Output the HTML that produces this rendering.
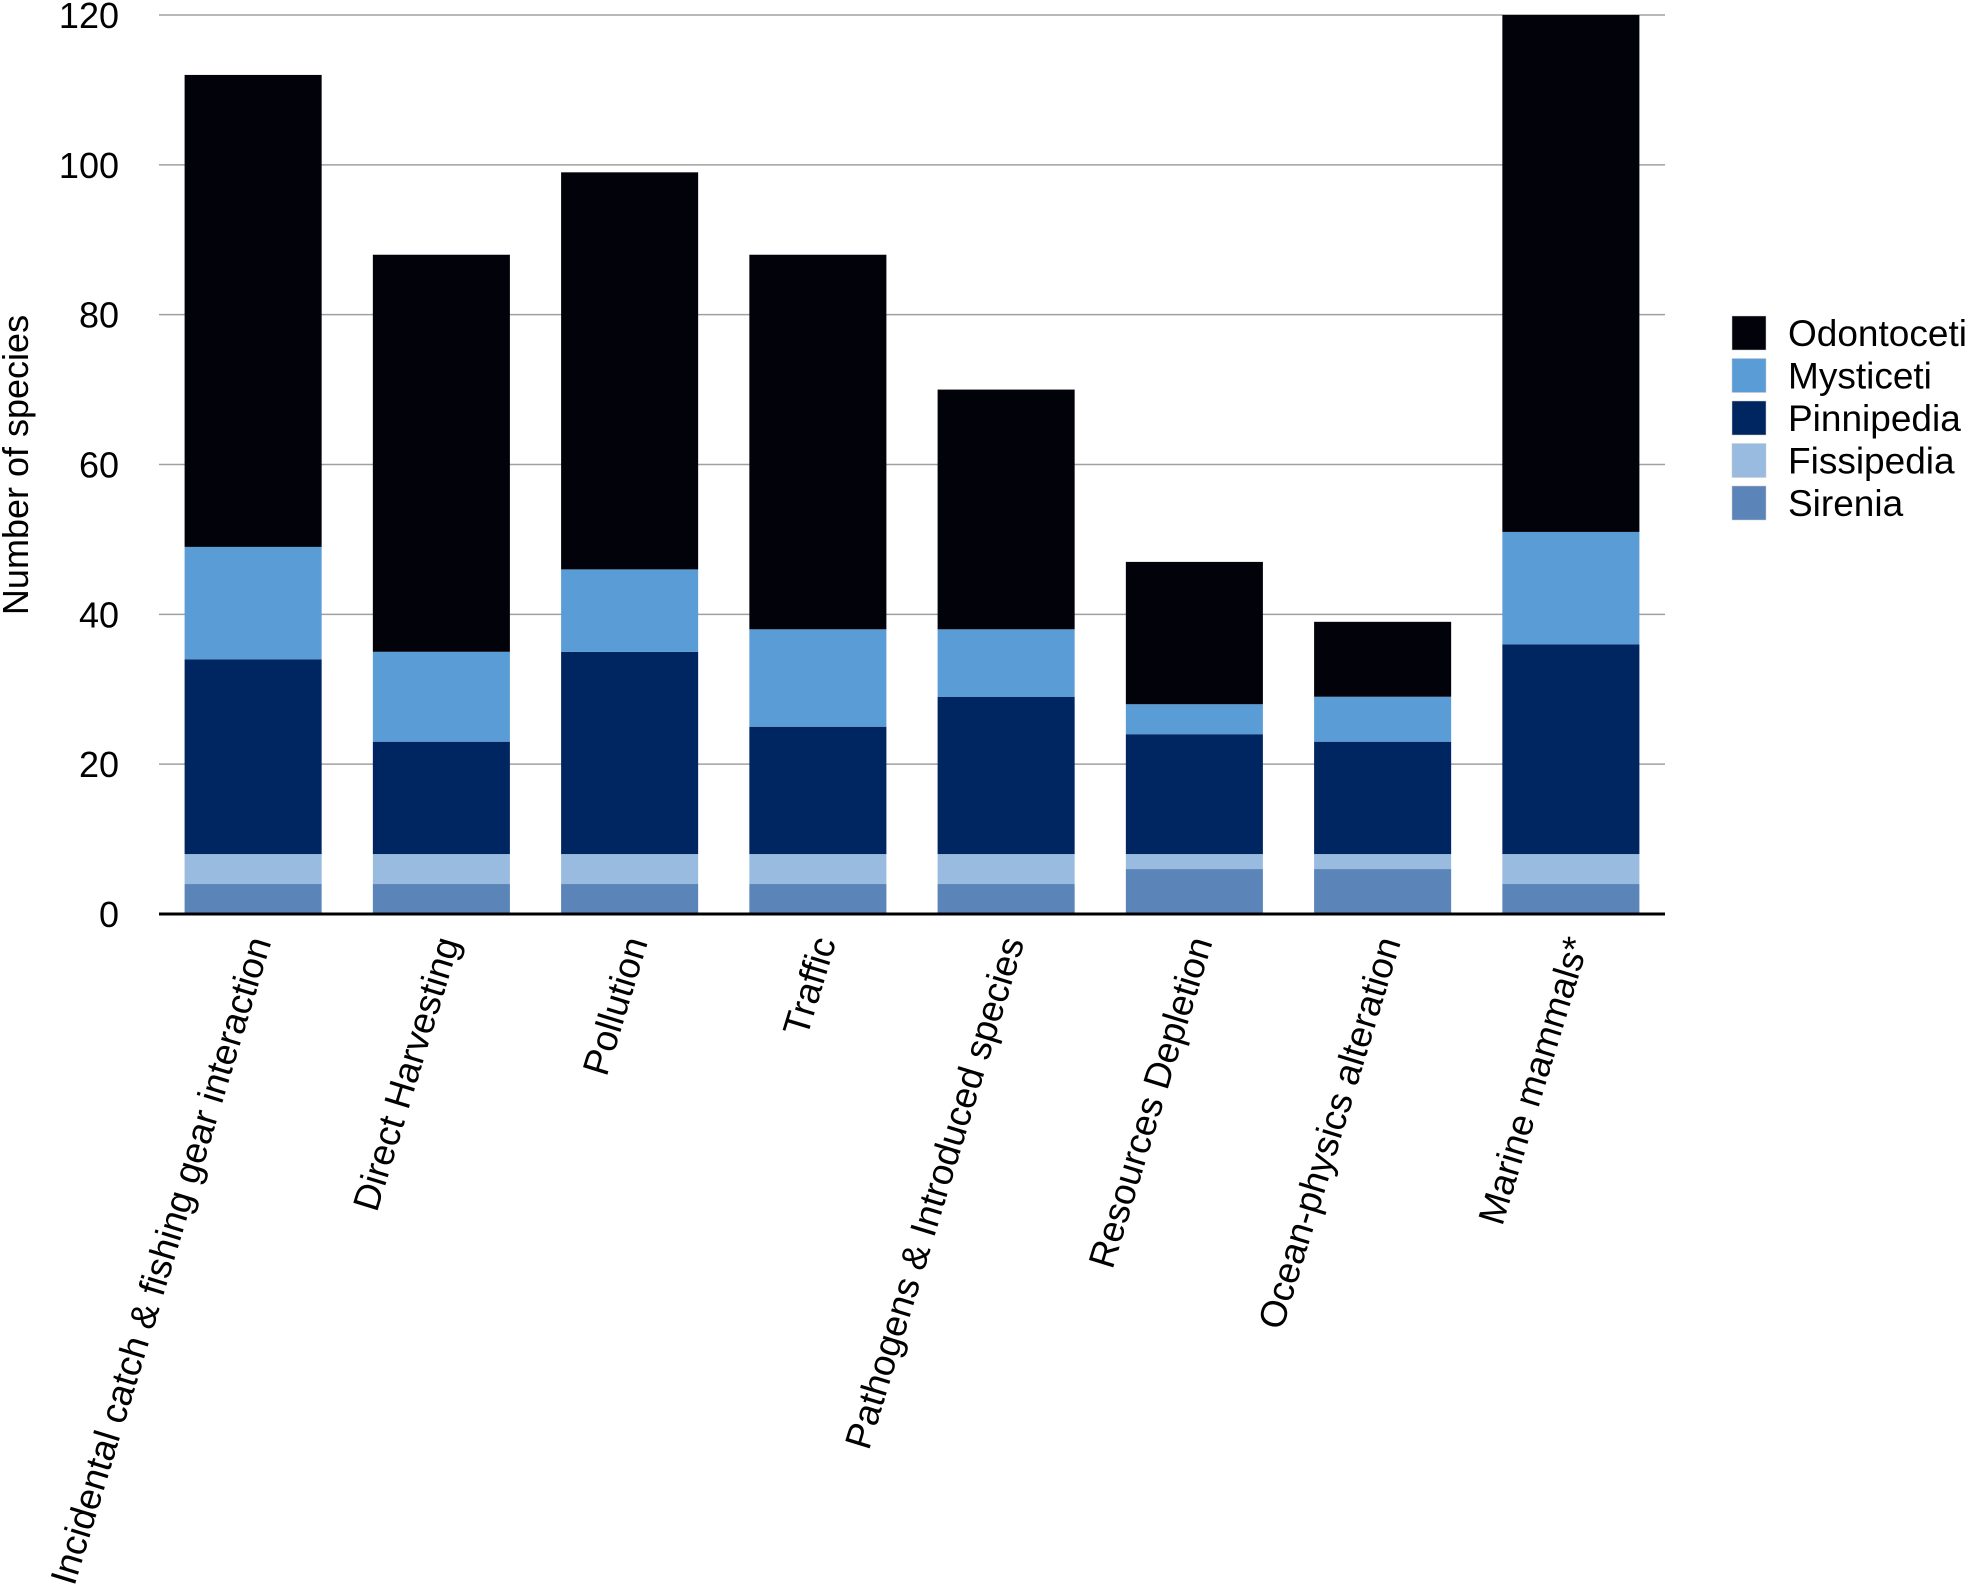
<!DOCTYPE html>
<html><head><meta charset="utf-8"><style>
html,body{margin:0;padding:0;background:#fff;}
svg{display:block;font-family:"Liberation Sans",Arial,sans-serif;}
</style></head><body>
<svg id="chart" width="1969" height="1585" viewBox="0 0 1969 1585" xmlns="http://www.w3.org/2000/svg">
<g id="grid"></g>
<g id="bars"></g>
<g id="yticks"></g>
<g id="xlabels"></g>
<text transform="translate(28,465) rotate(-90)" text-anchor="middle" font-size="36" fill="#000">Number of species</text>
<g id="legend"></g>
</svg>
<script>
const categories = ["Incidental catch & fishing gear interaction","Direct Harvesting","Pollution","Traffic","Pathogens & Introduced species","Resources Depletion","Ocean-physics alteration","Marine mammals*"];
const seriesNames = ["Sirenia","Fissipedia","Pinnipedia","Mysticeti","Odontoceti"];
const sirenia    = [4,4,4,4,4,6,6,4];
const fissipedia = [4,4,4,4,4,2,2,4];
const pinnipedia = [26,15,27,17,21,16,15,28];
const mysticeti  = [15,12,11,13,9,4,6,15];
const odontoceti = [63,53,53,50,32,19,10,69];
const yTicks = [0,20,40,60,80,100,120];

const series = [sirenia,fissipedia,pinnipedia,mysticeti,odontoceti];
const colors = ["#5b84b8","#98bbdf","#002661","#5a9cd6","#02030a"];
const NS = "http://www.w3.org/2000/svg";
const X0 = 159, X1 = 1665, Y0 = 914, YTOP = 15, YMAX = 120;
const band = (X1 - X0) / categories.length, barW = band * 0.728;
function y(v){ return Y0 - (v / YMAX) * (Y0 - YTOP); }
function xc(i){ return X0 + band * (i + 0.5); }
function mk(tag, attrs, parent){ const e = document.createElementNS(NS, tag); for (const k in attrs) e.setAttribute(k, attrs[k]); parent.appendChild(e); return e; }

const grid = document.getElementById('grid');
const yt = document.getElementById('yticks');
yTicks.forEach(t => {
  if (t > 0) {
    const l = mk('line', {x1:X0, x2:X1, y1:y(t), y2:y(t), stroke:'#a0a0a0', 'stroke-width':1.5}, grid);
    
    
  }
  const tx = mk('text', {x:119, y:y(t)+13, 'text-anchor':'end', 'font-size':36, fill:'#000'}, yt);
  
  
  tx.textContent = t;
});

const bars = document.getElementById('bars');
categories.forEach((c, i) => {
  let base = 0;
  series.forEach((s, k) => {
    const v = s[i];
    const r = mk('rect', {x:xc(i)-barW/2, y:y(base+v), width:barW, height:y(base)-y(base+v), fill:colors[k]}, bars);
    
    
    base += v;
  });
});
const ax = mk('line', {x1:X0, x2:X1, y1:Y0, y2:Y0, stroke:'#000', 'stroke-width':3}, grid.parentNode);



const xl = document.getElementById('xlabels');
categories.forEach((c, i) => {
  const t = mk('text', {transform:`translate(${xc(i)+6},${938}) rotate(-73)`, 'text-anchor':'end', dy:'0.35em', 'font-size':37, fill:'#000'}, xl);
  
  
  t.textContent = c;
});

const lg = document.getElementById('legend');
const legendOrder = [4,3,2,1,0];
legendOrder.forEach((k, j) => {
  const cy = 333 + j * 42.5;
  const r = mk('rect', {x:1732, y:cy-17, width:34, height:34, fill:colors[k], stroke:'#ccc', 'stroke-width':0.5}, lg);
  
  
  const t = mk('text', {x:1788, y:cy+13, 'font-size':37, fill:'#000'}, lg);
  
  
  t.textContent = seriesNames[k];
});
</script>
</body></html>
